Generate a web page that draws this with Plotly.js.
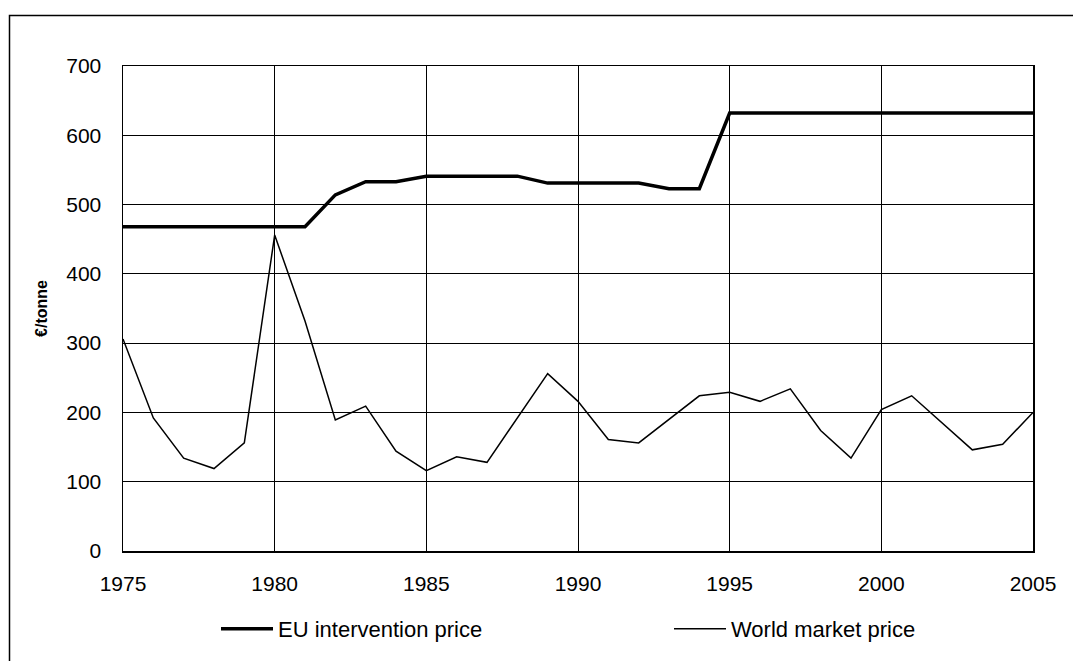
<!DOCTYPE html>
<html>
<head>
<meta charset="utf-8">
<script src="https://cdn.plot.ly/plotly-3.0.1.min.js"></script>
<style>
html,body{margin:0;padding:0;background:#fff;}
#chart{width:1073px;height:661px;}
</style>
</head>
<body>
<div id="chart"></div>
<script>
const years = [1975,1976,1977,1978,1979,1980,1981,1982,1983,1984,1985,1986,1987,1988,1989,1990,
               1991,1992,1993,1994,1995,1996,1997,1998,1999,2000,2001,2002,2003,2004,2005];
const euInterventionPrice = [468,468,468,468,468,468,468,514,533,533,541,541,541,541,531,531,
                             531,531,523,523,632,632,632,632,632,632,632,632,632,632,632];
const worldMarketPrice = [306,192,134,119,156,456,332,189,209,144,116,136,128,192,256,216,
                          161,156,190,224,229,216,234,174,134,204,224,185,146,154,200];
const seriesNames = ["EU intervention price", "World market price"];
const yTitle = "€/tonne";

const W = 1073, H = 661;
const M = {l: 123, r: 40, t: 66, b: 110, autoexpand: false};
const pw = W - M.l - M.r, ph = H - M.t - M.b;
const font = "Liberation Sans, Arial, sans-serif";
const px = v => (v - M.l) / pw;
const py = v => (H - M.b - v) / ph;

const traces = [
  {x: years, y: euInterventionPrice, name: seriesNames[0], type: "scatter", mode: "lines",
   line: {color: "#000", width: 3.5}, legend: "legend"},
  {x: years, y: worldMarketPrice, name: seriesNames[1], type: "scatter", mode: "lines",
   line: {color: "#000", width: 1.5}, legend: "legend2"}
];

const legendCommon = {orientation: "h", xanchor: "left", yanchor: "middle", itemwidth: 52,
  font: {size: 22, family: font}, bgcolor: "rgba(0,0,0,0)", borderwidth: 0};

const layout = {
  width: W, height: H,
  margin: M,
  paper_bgcolor: "#fff", plot_bgcolor: "#fff",
  font: {family: font, color: "#000", size: 20},
  showlegend: true,
  legend: Object.assign({}, legendCommon, {x: px(216), y: py(629)}),
  legend2: Object.assign({}, legendCommon, {x: px(669), y: py(629)}),
  xaxis: {range: [1975, 2005], dtick: 5, tick0: 1975, showgrid: true, gridcolor: "#000", gridwidth: 1,
          showline: true, linecolor: "#000", linewidth: 1.5, mirror: true, zeroline: false,
          ticks: "", ticklabelstandoff: 13, tickfont: {size: 21}},
  yaxis: {range: [0, 700], dtick: 100, showgrid: true, gridcolor: "#000", gridwidth: 1,
          showline: true, linecolor: "#000", linewidth: 1.5, mirror: true, zeroline: false,
          ticks: "", ticklabelstandoff: 16, tickfont: {size: 21},
          title: {text: "<b>" + yTitle + "</b>", font: {size: 16}, standoff: 14}},
  shapes: [
    {type: "rect", xref: "paper", yref: "paper",
     x0: px(9.5), x1: px(W + 20),
     y0: py(H + 20), y1: py(15.5),
     line: {color: "#000", width: 1.5}, fillcolor: "rgba(0,0,0,0)", layer: "below"}
  ]
};

Plotly.newPlot("chart", traces, layout, {displayModeBar: false, staticPlot: true});
</script>
</body>
</html>
